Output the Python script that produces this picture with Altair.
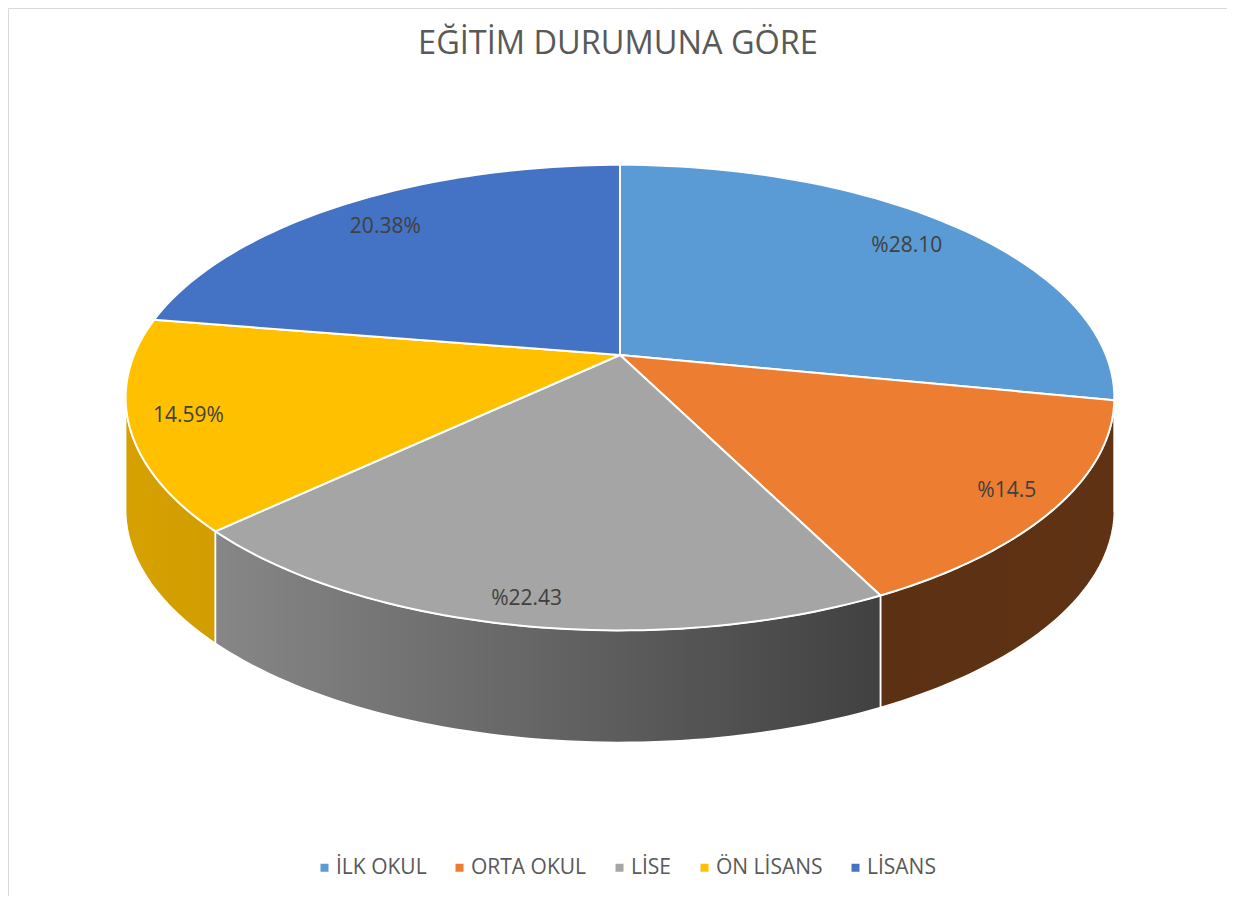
import math
import altair as alt
import pandas as pd

# ---------------- data ----------------
categories = ["İLK OKUL", "ORTA OKUL", "LİSE", "ÖN LİSANS", "LİSANS"]
values = [28.10, 14.5, 20.38, 14.59, 22.43]          # slice sizes as drawn
label_texts = ["%28.10", "%14.5", "%22.43", "14.59%", "20.38%"]  # label texts as printed
title_text = "EĞİTİM DURUMUNA GÖRE"

# ---------------- style ----------------
palette = ["#5B9BD5", "#ED7D31", "#A5A5A5", "#FFC000", "#4472C4"]

df = pd.DataFrame({"cat": categories, "value": values,
                   "label": label_texts, "idx": list(range(len(categories)))})

# projection of the tilted disc (page pixel space)
CX, CY = 620, 355        # apex of the pie
A, B, KP = 486, 225, 0.183
H = 112                  # thickness of the pie
N = 60
TS = math.acos(-KP)
TE = 2 * math.pi - TS
W, HH = 1219, 888

xs = alt.Scale(domain=[8, 8 + W], nice=False, zero=False)
ys = alt.Scale(domain=[8, 8 + HH], nice=False, zero=False, reverse=True)
X = alt.X("px:Q", scale=xs, axis=None)
Y = alt.Y("py:Q", scale=ys, axis=None)


def px_expr(rho):
    return f"{CX} + ({rho})*{A}*sin(datum.t)/(1 + {KP}*({rho})*cos(datum.t))"


def py_expr(rho, off="0"):
    return f"{CY} - ({rho})*{B}*cos(datum.t)/(1 + {KP}*({rho})*cos(datum.t)) + ({off})"


base = (
    alt.Chart(df)
    .transform_joinaggregate(total="sum(value)")
    .transform_window(cum="sum(value)", sort=[alt.SortField("idx")], frame=[None, 0])
    .transform_calculate(
        a0="2*PI*(datum.cum - datum.value)/datum.total",
        a1="2*PI*datum.cum/datum.total",
    )
)

fill_scale = alt.Scale(domain=categories, range=palette)

# ---- side walls (visible front part only) ----
side_data = (
    base.transform_calculate(s0=f"max(datum.a0, {TS})", s1=f"min(datum.a1, {TE})")
    .transform_filter("datum.s1 > datum.s0")
    .transform_calculate(k=f"sequence(0, {2 * N + 3})")
    .transform_flatten(["k"])
    .transform_calculate(
        j=f"datum.k > {2 * N + 1} ? 0 : (datum.k <= {N} ? datum.k : {2 * N + 1} - datum.k)",
        off=f"(datum.k <= {N} || datum.k > {2 * N + 1}) ? 0 : {H}",
    )
    .transform_calculate(t=f"datum.s0 + (datum.s1 - datum.s0)*datum.j/{N}")
    .transform_calculate(px=px_expr("1"), py=py_expr("1", "datum.off"))
)

side_fill = side_data.mark_line(stroke="transparent").encode(
    x=X, y=Y, fill=alt.Fill("cat:N", scale=fill_scale), detail="cat:N", order="k:Q"
)
side_stroke = side_data.mark_line(stroke="white", strokeWidth=1.5).encode(
    x=X, y=Y, detail="cat:N", order="k:Q"
)

# ---- shading overlay of the whole front wall ----
M = 120
shade = (
    alt.Chart(alt.sequence(0, 2 * M + 2, as_="k"))
    .transform_calculate(
        j=f"datum.k <= {M} ? datum.k : {2 * M + 1} - datum.k",
        off=f"datum.k <= {M} ? 0 : {H}",
    )
    .transform_calculate(t=f"{TS} + ({TE - TS})*datum.j/{M}")
    .transform_calculate(px=px_expr("1"), py=py_expr("1", "datum.off"))
    .mark_line(
        stroke="transparent",
        fill=alt.Gradient(
            gradient="linear",
            x1=0, x2=1, y1=0, y2=0,
            stops=[
                alt.GradientStop(color="rgba(0,0,0,0.16)", offset=0),
                alt.GradientStop(color="rgba(0,0,0,0.18)", offset=0.085),
                alt.GradientStop(color="rgba(0,0,0,0.61)", offset=0.77),
                alt.GradientStop(color="rgba(0,0,0,0.60)", offset=1),
            ],
        ),
    )
    .encode(x=X, y=Y, order="k:Q")
)

# ---- top faces ----
top = (
    base.transform_calculate(k=f"sequence(-1, {N + 2})")
    .transform_flatten(["k"])
    .transform_calculate(
        t=f"datum.a0 + (datum.a1 - datum.a0)*clamp(datum.k, 0, {N})/{N}",
        rho=f"(datum.k < 0 || datum.k > {N}) ? 0 : 1",
    )
    .transform_calculate(px=px_expr("datum.rho"), py=py_expr("datum.rho"))
    .mark_line(stroke="white", strokeWidth=2, strokeJoin="round")
    .encode(
        x=X,
        y=Y,
        fill=alt.Fill(
            "cat:N",
            scale=fill_scale,
            legend=alt.Legend(
                orient="none", legendX=306, legendY=849, direction="horizontal",
                title=None, symbolType="square", symbolSize=64, symbolStrokeWidth=0,
                labelFont="Open Sans", labelFontSize=21, labelColor="#595959",
                labelOffset=1, columnPadding=22, padding=0,
            ),
        ),
        detail="cat:N",
        order="k:Q",
    )
)

# ---- data labels ----
labels = (
    base.transform_calculate(t="(datum.a0 + datum.a1)/2")
    .transform_calculate(rho="0.87 - 0.05*cos(datum.t)")
    .transform_calculate(px=px_expr("datum.rho"), py=py_expr("datum.rho"))
    .mark_text(font="Open Sans", fontSize=21, color="#404040")
    .encode(x=X, y=Y, text="label:N")
)

# ---- title ----
title = (
    alt.Chart(pd.DataFrame({"t": [title_text]}))
    .mark_text(font="Open Sans", fontSize=32.5, color="#595959", baseline="alphabetic")
    .encode(x=alt.value(610), y=alt.value(46), text="t:N")
)

chart = (
    alt.layer(side_fill, shade, side_stroke, top, labels, title)
    .properties(width=W, height=HH, padding=0, autosize=alt.AutoSizeParams(type="none"))
    .configure_view(stroke="#d9d9d9", strokeWidth=1)
)

chart.save("out.html", embed_options={"renderer": "svg", "actions": False})
